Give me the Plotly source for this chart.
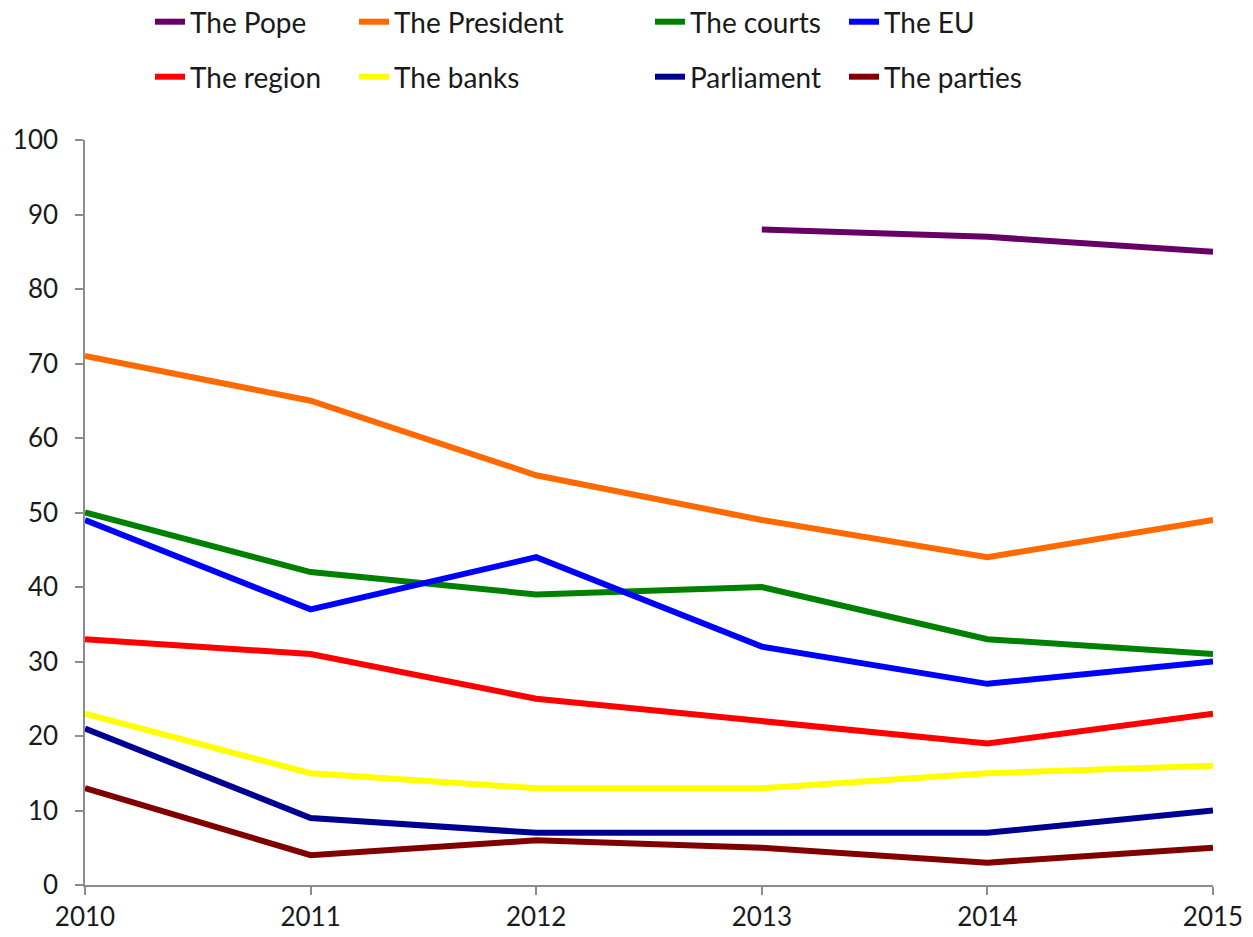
import plotly.graph_objects as go

years = [2010, 2011, 2012, 2013, 2014, 2015]

pope = [None, None, None, 88, 87, 85]
president = [71, 65, 55, 49, 44, 49]
courts = [50, 42, 39, 40, 33, 31]
eu = [49, 37, 44, 32, 27, 30]
region = [33, 31, 25, 22, 19, 23]
banks = [23, 15, 13, 13, 15, 16]
parliament = [21, 9, 7, 7, 7, 10]
parties = [13, 4, 6, 5, 3, 5]

names = ["The Pope", "The President", "The courts", "The EU",
         "The region", "The banks", "Parliament", "The parties"]
series = [pope, president, courts, eu, region, banks, parliament, parties]
colors = ["#660066", "#FF6A00", "#008000", "#0000FF",
          "#FF0000", "#FFFF00", "#000090", "#800000"]

FONT = "Lato"
TXT = "#1a1a1a"

fig = go.Figure()

# one legend per entry so the two rows of four can be placed freely
col_x = [150, 354, 650, 844]
row_y = [22, 77]
W, H = 1253, 937
PL, PR, PT, PB = 85, 40, 140, 52
pw, ph = W - PL - PR, H - PT - PB

legend_layouts = {}
for i, (name, vals, col) in enumerate(zip(names, series, colors)):
    lid = "legend" if i == 0 else f"legend{i + 1}"
    fig.add_trace(go.Scatter(
        x=years, y=vals, name=name, mode="lines",
        line=dict(color=col, width=6),
        connectgaps=False, legend=lid,
    ))
    cx = col_x[i % 4]
    cy = row_y[i // 4]
    legend_layouts[lid] = dict(
        x=(cx - PL) / pw, y=(H - PB - cy) / ph,
        xref="paper", yref="paper", xanchor="left", yanchor="middle",
        bgcolor="rgba(0,0,0,0)", borderwidth=0,
        font=dict(family=FONT, size=28, color=TXT),
        itemwidth=30,
    )

fig.update_layout(
    width=W, height=H,
    margin=dict(l=PL, r=PR, t=PT, b=PB, autoexpand=False),
    plot_bgcolor="white", paper_bgcolor="white",
    showlegend=True,
    font=dict(family=FONT, size=26, color=TXT),
    xaxis=dict(
        range=[2010, 2015], tickvals=years, ticktext=[str(y) for y in years],
        showgrid=False, zeroline=False, showline=True,
        linecolor="#8C8C8C", linewidth=1.5,
        ticks="outside", ticklen=8, tickcolor="#8C8C8C", tickwidth=1.5,
        tickfont=dict(family=FONT, size=26, color=TXT),
    ),
    yaxis=dict(
        range=[0, 100], dtick=10,
        showgrid=False, zeroline=False, showline=True,
        linecolor="#8C8C8C", linewidth=1.5,
        ticks="outside", ticklen=8, tickcolor="#8C8C8C", tickwidth=1.5,
        tickfont=dict(family=FONT, size=26, color=TXT),
        ticklabelstandoff=12,
    ),
    **legend_layouts,
)

fig.write_html("out.html")
